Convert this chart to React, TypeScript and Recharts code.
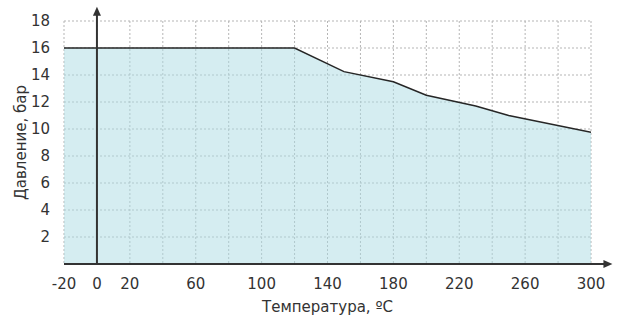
import React from "react";
import {
  AreaChart,
  Area,
  XAxis,
  YAxis,
  CartesianGrid,
  ReferenceLine,
  ReferenceDot,
} from "recharts";

const temperatures = [-20, 120, 150, 180, 200, 230, 250, 300];
const pressures = [16, 16, 14.25, 13.5, 12.5, 11.7, 11, 9.75];
const xTicks = [-20, 0, 20, 60, 100, 140, 180, 220, 260, 300];
const yTicks = [2, 4, 6, 8, 10, 12, 14, 16, 18];
const xGridValues = [-20, 0, 20, 40, 60, 80, 100, 120, 140, 160, 180, 200, 220, 240, 260, 280, 300];
const yGridValues = [2, 4, 6, 8, 10, 12, 14, 16, 18];

const data = temperatures.map((t, i) => ({ t, p: pressures[i] }));

const FONT = "DejaVu Sans, sans-serif";
const AXIS = "#333";

const ArrowUp = (props: any) => {
  const { cx, cy } = props;
  return <path d={`M${cx},${cy} L${cx - 4},${cy + 9} L${cx + 4},${cy + 9} Z`} fill={AXIS} />;
};
const ArrowRight = (props: any) => {
  const { cx, cy } = props;
  return <path d={`M${cx},${cy} L${cx - 9},${cy - 4} L${cx - 9},${cy + 4} Z`} fill={AXIS} />;
};

export default function App() {
  return (
    <div style={{ position: "absolute", left: 0, top: 0, width: 619, height: 323, background: "#fff" }}>
      <AreaChart
        width={619}
        height={323}
        data={data}
        margin={{ top: 21, right: 28, left: 0, bottom: 0 }}
      >
        <CartesianGrid
          stroke="#b5b5b5"
          strokeDasharray="2 2"
          verticalValues={xGridValues}
          horizontalValues={yGridValues}
        />
        <XAxis
          dataKey="t"
          type="number"
          domain={[-20, 300]}
          ticks={xTicks}
          interval={0}
          axisLine={false}
          tickLine={false}
          height={59}
          tickMargin={8}
          tick={{ fill: AXIS, fontSize: 15, fontFamily: FONT }}
          allowDataOverflow
          label={{
            value: "Температура, ºC",
            position: "insideBottom",
            offset: 11,
            fill: AXIS,
            fontSize: 15,
            fontFamily: FONT,
          }}
        />
        <YAxis
          type="number"
          domain={[0, 18]}
          ticks={yTicks}
          interval={0}
          axisLine={false}
          tickLine={false}
          width={64}
          tickMargin={8}
          tick={{ fill: AXIS, fontSize: 15, fontFamily: FONT }}
          allowDataOverflow
          label={{
            value: "Давление, бар",
            angle: -90,
            position: "insideLeft",
            offset: 21,
            style: { textAnchor: "middle" },
            fill: AXIS,
            fontSize: 15,
            fontFamily: FONT,
          }}
        />
        <Area
          type="linear"
          dataKey="p"
          stroke="#262626"
          strokeWidth={1.5}
          fill="#abdbe3"
          fillOpacity={0.5}
          isAnimationActive={false}
          dot={false}
          activeDot={false}
        />
        <ReferenceLine
          segment={[{ x: -20, y: 0 }, { x: 310, y: 0 }]}
          stroke={AXIS}
          strokeWidth={2}
          ifOverflow="visible"
        />
        <ReferenceLine
          segment={[{ x: 0, y: 0 }, { x: 0, y: 18.5 }]}
          stroke={AXIS}
          strokeWidth={2}
          ifOverflow="visible"
        />
        <ReferenceDot x={0} y={19.05} ifOverflow="visible" shape={ArrowUp} />
        <ReferenceDot x={313} y={0} ifOverflow="visible" shape={ArrowRight} />
      </AreaChart>
    </div>
  );
}
